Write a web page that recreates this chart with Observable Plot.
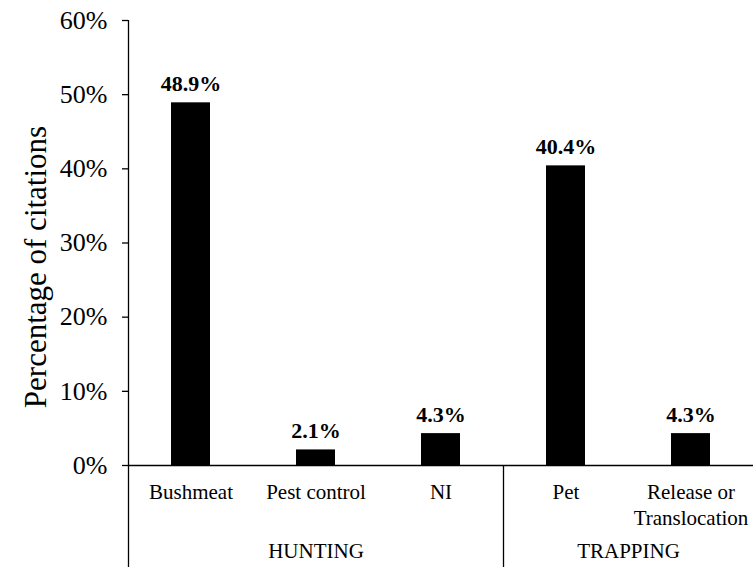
<!DOCTYPE html>
<html><head><meta charset="utf-8">
<script src="https://cdn.jsdelivr.net/npm/d3@7"></script>
<script src="https://cdn.jsdelivr.net/npm/@observablehq/plot@0.6"></script>
<style>body{margin:0;background:#fff}</style>
</head><body><div id="chart"></div>
<script>
const categories = ["Bushmeat", "Pest control", "NI", "Pet", "Release or\nTranslocation"];
const values = [48.9, 2.1, 4.3, 40.4, 4.3];
const groups = ["HUNTING", "HUNTING", "HUNTING", "TRAPPING", "TRAPPING"];
const yTicks = [0, 10, 20, 30, 40, 50, 60];
const yLabel = "Percentage of citations";

const data = categories.map((c, i) => ({i, category: c, value: values[i], group: groups[i]}));
const groupNames = [...new Set(groups)];
const groupData = groupNames.map(g => {
  const idx = data.filter(d => d.group === g).map(d => d.i);
  return {group: g, mid: d3.mean(idx), start: d3.min(idx) - 0.5, end: d3.max(idx) + 0.5};
});
const separators = groupData.slice(1).map(g => g.start);

const W = 753, H = 567, mL = 128, mR = 0, mT = 20, mB = 102;
const yMax = d3.max(yTicks);
const yBottom = -mB * yMax / (H - mT - mB);
const half = 0.156;
const font = "'Liberation Serif', 'Times New Roman', serif";

const plot = Plot.plot({
  width: W, height: H,
  marginLeft: mL, marginRight: mR, marginTop: mT, marginBottom: mB,
  style: {fontFamily: font, background: "#fff", color: "#000"},
  x: {type: "linear", domain: [-0.5, categories.length - 0.5], axis: null},
  y: {domain: [0, yMax], axis: null},
  marks: [
    Plot.rectY(data, {x1: d => d.i - half, x2: d => d.i + half, y1: 0, y2: "value", fill: "#000"}),
    Plot.ruleY([0], {stroke: "#000", strokeWidth: 1.3}),
    Plot.ruleX([-0.5], {y1: yBottom, y2: yMax, stroke: "#000", strokeWidth: 1.3}),
    Plot.ruleX(separators, {x: d => d, y1: 0, y2: yBottom, stroke: "#000", strokeWidth: 1.3}),
    Plot.axisY({ticks: yTicks, tickFormat: d => d + "%", tickSize: 6, tickPadding: 15, fontSize: 26, fontFamily: font, label: null, stroke: "#000", strokeWidth: 1.3}),
    Plot.text(data, {x: "i", y: "value", text: d => d.value.toFixed(1) + "%", dy: -19, fontWeight: "bold", fontSize: 22, fontFamily: font, fill: "#000"}),
    Plot.text(data, {x: "i", text: "category", frameAnchor: "bottom", lineAnchor: "top", dy: 16, fontSize: 21, lineHeight: 1.2, fontFamily: font, fill: "#000"}),
    Plot.text(groupData, {x: "mid", text: "group", frameAnchor: "bottom", dy: 92, fontSize: 21, fontFamily: font, fill: "#000"}),
    Plot.text([yLabel], {frameAnchor: "left", textAnchor: "middle", rotate: -90, dx: -92.5, dy: 24, fontSize: 31, fontFamily: font, fill: "#000"})
  ]
});
document.getElementById("chart").appendChild(plot);
</script>
</body></html>
